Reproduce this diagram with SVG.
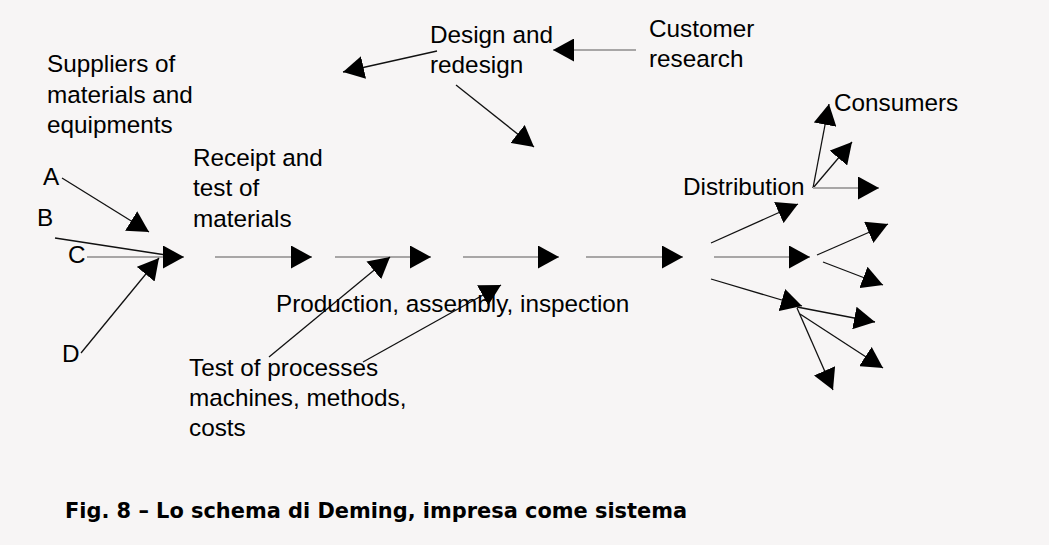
<svg xmlns="http://www.w3.org/2000/svg" width="1049" height="545" viewBox="0 0 1049 545">
<style>
text{font-family:"Liberation Sans",Arial,sans-serif;font-size:24.3px;fill:#000}
.cap{font-family:"DejaVu Sans","Liberation Sans",sans-serif;font-weight:bold;font-size:21px}
.k{stroke:#111;stroke-width:1.3;fill:none;marker-end:url(#ah)}
.g{stroke:#a8a6a6;stroke-width:2;fill:none;marker-end:url(#ah)}
.kp{stroke:#111;stroke-width:1.3;fill:none}
</style>
<defs>
<marker id="ah" markerUnits="userSpaceOnUse" markerWidth="23" markerHeight="23" refX="21" refY="11.5" orient="auto" viewBox="0 0 23 23">
<path d="M0,0 L21,11.5 L0,23 Z" fill="#000"/>
</marker>
</defs>
<rect width="1049" height="545" fill="#f7f5f5"/>
<g id="connectors">
<line class="k" x1="62" y1="178" x2="149" y2="232"/>
<line class="kp" x1="55" y1="238" x2="166" y2="255"/>
<line class="g" x1="87" y1="257" x2="184" y2="257"/>
<line class="k" x1="81" y1="353" x2="159" y2="258"/>
<line class="g" x1="215" y1="257" x2="312" y2="257"/>
<line class="g" x1="335" y1="257" x2="431" y2="257"/>
<line class="g" x1="463" y1="257" x2="559" y2="257"/>
<line class="g" x1="586" y1="257" x2="683" y2="257"/>
<line class="k" x1="269" y1="357" x2="390" y2="257"/>
<line class="k" x1="363" y1="362" x2="501" y2="285"/>
<line class="g" x1="636" y1="50" x2="553" y2="50"/>
<line class="k" x1="437" y1="51" x2="343" y2="72"/>
<line class="k" x1="456" y1="85" x2="534" y2="147"/>
<line class="k" x1="711" y1="243" x2="798" y2="204"/>
<line class="g" x1="714" y1="257" x2="810" y2="257"/>
<line class="k" x1="711" y1="279" x2="802" y2="306"/>
<line class="k" x1="813" y1="188" x2="829" y2="104"/>
<line class="k" x1="813" y1="188" x2="852" y2="142"/>
<line class="g" x1="813" y1="188" x2="879" y2="188"/>
<line class="k" x1="817" y1="255" x2="888" y2="224"/>
<line class="k" x1="823" y1="262" x2="883" y2="285"/>
<line class="k" x1="797" y1="307" x2="875" y2="322"/>
<line class="k" x1="800" y1="314" x2="883" y2="368"/>
<line class="k" x1="797" y1="308" x2="833" y2="390"/>
</g>
<g id="suppliers"><text x="47" y="72">Suppliers of</text><text x="47" y="103">materials and</text><text x="47" y="133">equipments</text></g>
<g id="supplier-a"><text x="43" y="185">A</text></g>
<g id="supplier-b"><text x="37" y="226">B</text></g>
<g id="supplier-c"><text x="68" y="263">C</text></g>
<g id="supplier-d"><text x="62" y="362">D</text></g>
<g id="receipt"><text x="193" y="166">Receipt and</text><text x="193" y="196">test of</text><text x="193" y="227">materials</text></g>
<g id="design"><text x="430" y="43">Design and</text><text x="430" y="73">redesign</text></g>
<g id="customer"><text x="649" y="37">Customer</text><text x="649" y="67">research</text></g>
<g id="production"><text x="276" y="312">Production, assembly, inspection</text></g>
<g id="test-processes"><text x="189" y="376">Test of processes</text><text x="189" y="406">machines, methods,</text><text x="189" y="436">costs</text></g>
<g id="distribution"><text x="683" y="195">Distribution</text></g>
<g id="consumers"><text x="834" y="111">Consumers</text></g>
<g id="caption"><text class="cap" x="65" y="518" textLength="622" lengthAdjust="spacingAndGlyphs">Fig. 8 – Lo schema di Deming, impresa come sistema</text></g>
</svg>
